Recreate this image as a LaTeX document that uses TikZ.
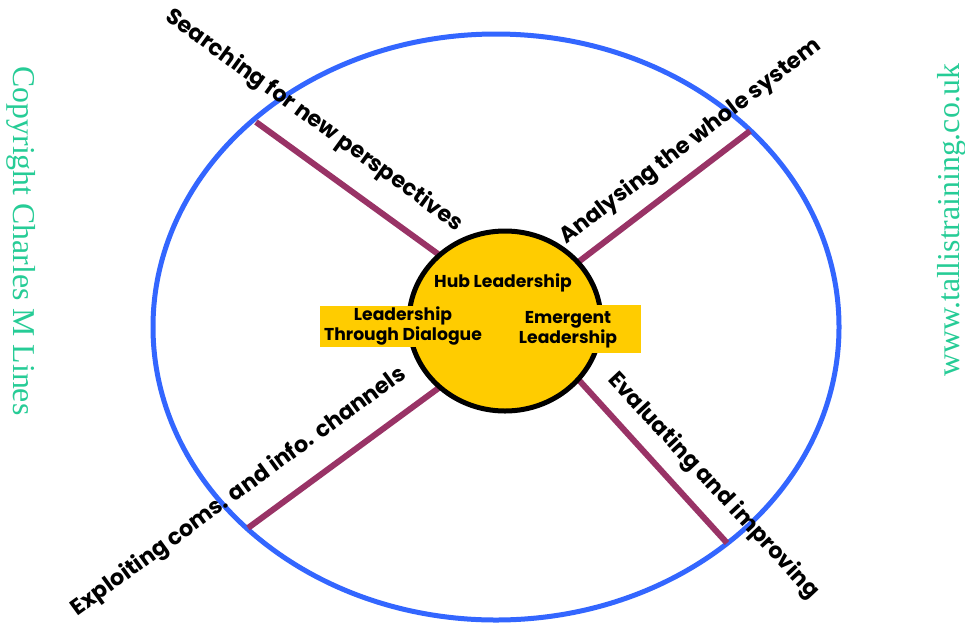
\documentclass[tikz,border=0pt]{standalone}
\usepackage{fontspec}
\setmainfont{Poppins}
\newfontfamily\serifnote{Liberation Serif}
\definecolor{rimblue}{RGB}{51,102,255}
\definecolor{spoke}{RGB}{153,51,102}
\definecolor{hubyellow}{RGB}{255,204,0}
\definecolor{notegreen}{RGB}{38,204,150}
\begin{document}
\begin{tikzpicture}[x=1pt,y=-1pt,
  spokeline/.style={draw=spoke,line width=6pt},
  spokelabel/.style={font=\bfseries\fontsize{22.3}{26}\selectfont,inner sep=0pt},
  hublabel/.style={font=\bfseries\fontsize{17.2}{20}\selectfont,align=center,inner sep=0pt},
  patch/.style={fill=hubyellow,draw=none},
  note/.style={font=\serifnote\fontsize{31.8}{34}\selectfont,text=notegreen,inner sep=0pt}]
\useasboundingbox (0,0) rectangle (965,622);
\fill[white] (0,0) rectangle (965,622);
% outer rim
\draw[rimblue,line width=5pt] (496,327) ellipse [x radius=343,y radius=293];
% spokes: inner and outer end points
\coordinate (nwin) at (438,254);  \coordinate (nwout) at (256,122);
\coordinate (nein) at (577,263);  \coordinate (neout) at (750,131);
\coordinate (swin) at (440,387);  \coordinate (swout) at (248,528);
\coordinate (sein) at (577,378);  \coordinate (seout) at (727,543);
\draw[spokeline] (nwin) -- (nwout);
\draw[spokeline] (nein) -- (neout);
\draw[spokeline] (swin) -- (swout);
\draw[spokeline] (sein) -- (seout);
% hub
\draw[fill=hubyellow,line width=5pt] (505,321) ellipse [x radius=96,y radius=90];
\fill[patch] (320,306) rectangle (490,347);
\fill[patch] (515,305) rectangle (641,353);
\node[hublabel] (hub) at (503,283) {Hub Leadership};
\node[hublabel] (dialogue) at (403,326) {Leadership\\Through Dialogue};
\node[hublabel] (emergent) at (568,330) {Emergent\\Leadership};
% spoke labels
\node[spokelabel,rotate=-36] (searching) at (314,121) {Searching for new perspectives};
\node[spokelabel,rotate=37.5] (analysing) at (691,142) {Analysing the whole system};
\node[spokelabel,rotate=36] (exploiting) at (239,492) {Exploiting coms. and info. channels};
\node[spokelabel,rotate=-47] (evaluating) at (713,486) {Evaluating and improving};
% side notes
\node[note,rotate=-90] (copyright) at (21,241) {Copyright Charles M Lines};
\node[note,rotate=90] (website) at (952,220) {www.tallistraining.co.uk};
\end{tikzpicture}
\end{document}
